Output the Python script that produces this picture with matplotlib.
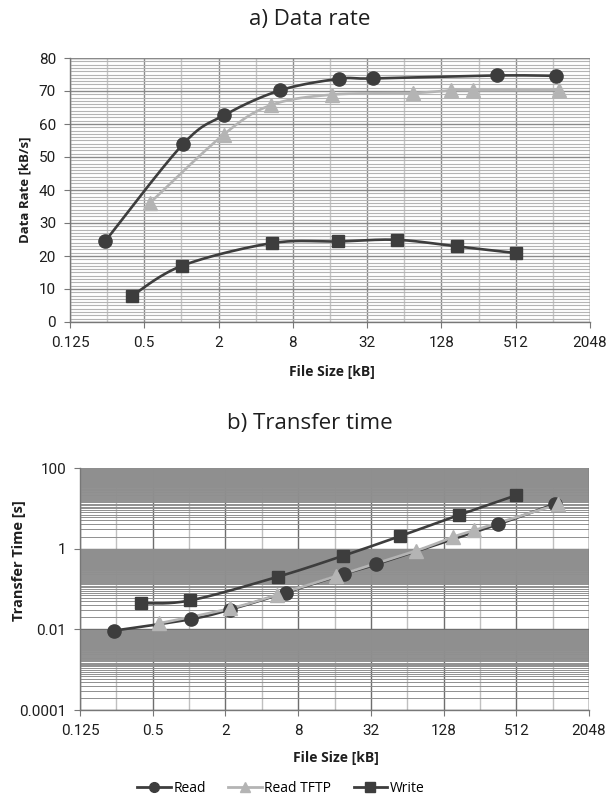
import numpy as np
import matplotlib
matplotlib.use("Agg")
import matplotlib.pyplot as plt
from matplotlib import font_manager
from matplotlib.ticker import FixedLocator, NullFormatter
from matplotlib.lines import Line2D

plt.rcParams['font.family'] = ['Open Sans', 'DejaVu Sans']

# narrow face for tick numbers, if it is installed
try:
    font_manager.findfont('Liberation Sans Narrow', fallback_to_default=False)
    TICKFONT, TICKSIZE = ['Liberation Sans Narrow'], 13
except Exception:
    TICKFONT, TICKSIZE = ['Roboto', 'DejaVu Sans'], 11

# file sizes [kB] per series
read_size = [0.24, 1.03, 2.2, 6.3, 19, 35.5, 360, 1080]
tftp_size = [0.56, 2.2, 5.3, 16.6, 76, 153, 230, 1140]
write_size = [0.4, 1.02, 5.4, 18.7, 56, 171, 510]

# a) data rate [kB/s]
read_rate = [24.4, 53.9, 62.6, 70.2, 73.7, 73.8, 74.7, 74.6]
tftp_rate = [36.2, 56.8, 65.7, 68.9, 69.4, 70.2, 70.2, 70.3]
write_rate = [8.0, 17.1, 23.9, 24.4, 24.9, 22.9, 20.9]

# b) transfer time [s]
read_time = [0.0093, 0.0178, 0.031, 0.081, 0.234, 0.41, 4.0, 13.1]
tftp_time = [0.014, 0.033, 0.071, 0.21, 0.89, 1.95, 2.86, 12.6]
write_time = [0.044, 0.052, 0.2, 0.66, 2.05, 6.8, 21]

xticks = [0.125, 0.5, 2, 8, 32, 128, 512, 2048]
xtick_labels = ['0.125', '0.5', '2', '8', '32', '128', '512', '2048']

DARK = '#3d3d3d'
LIGHT = '#b4b4b4'
W, H = 616, 798


def smooth(x, y, logy=False, n=30):
    # catmull-rom path through the points (excel "smoothed line" look)
    u = np.log2(x)
    v = np.log10(y) if logy else np.asarray(y, float)
    p = np.column_stack([u, v])
    p = np.vstack([p[0], p, p[-1]])
    out = []
    t = np.linspace(0, 1, n)[:, None]
    for i in range(1, len(p) - 2):
        p0, p1, p2, p3 = p[i - 1], p[i], p[i + 1], p[i + 2]
        seg = 0.5 * ((2 * p1) + (-p0 + p2) * t + (2 * p0 - 5 * p1 + 4 * p2 - p3) * t ** 2
                     + (-p0 + 3 * p1 - 3 * p2 + p3) * t ** 3)
        out.append(seg)
    out = np.vstack(out)
    sx = 2 ** out[:, 0]
    sy = 10 ** out[:, 1] if logy else out[:, 1]
    return sx, sy


def series(ax, x, y, color, marker, ms, logy=False):
    sx, sy = smooth(x, y, logy)
    ax.plot(sx, sy, color=color, lw=1.9, zorder=3)
    ax.plot(x, y, color=color, marker=marker, ms=ms, ls='none', zorder=4)


def style_x(ax):
    ax.set_xscale('log', base=2)
    ax.set_xlim(0.125, 2048)
    ax.xaxis.set_major_locator(FixedLocator(xticks))
    ax.set_xticks(xticks, xtick_labels)
    minors = [0.25, 1, 4, 16, 64, 256, 1024]
    ax.xaxis.set_minor_locator(FixedLocator(minors))
    ax.xaxis.set_minor_formatter(NullFormatter())
    for s in ['top', 'right']:
        ax.spines[s].set_visible(False)
    for s in ['left', 'bottom']:
        ax.spines[s].set_color('#777777')
        ax.spines[s].set_linewidth(1.0)
    ax.tick_params(which='major', length=4, color='#777777', labelsize=TICKSIZE,
                   labelcolor='#1e1e1e', pad=6, labelfontfamily=TICKFONT)
    ax.tick_params(which='minor', length=0)


def px(x, y):
    return x / W, 1 - y / H


fig = plt.figure(figsize=(6.16, 7.98), dpi=100)

# a) data rate
ax1 = fig.add_axes([70 / W, 1 - 322 / H, 520 / W, 264 / H])
ax1.set_ylim(0, 80)
ax1.set_yticks(range(0, 81, 10))
style_x(ax1)
ax1.yaxis.set_minor_locator(FixedLocator(range(0, 81, 1)))
ax1.grid(which='minor', axis='y', color='#b4b4b4', lw=0.8)
ax1.grid(which='major', axis='y', color='#8a8a8a', lw=1.0)
ax1.grid(which='minor', axis='x', color='#c4c4c4', lw=1.0)
ax1.grid(which='major', axis='x', color='#8a8a8a', lw=1.0)
ax1.axhline(80, color='#8a8a8a', lw=1.0)
ax1.axvline(2048, color='#8a8a8a', lw=1.0)
ax1.set_axisbelow(True)
series(ax1, read_size, read_rate, DARK, 'o', 9.5)
series(ax1, tftp_size, tftp_rate, LIGHT, '^', 9.5)
series(ax1, write_size, write_rate, DARK, 's', 8.8)
fig.text(*px(310, 19), 'a) Data rate', ha='center', va='center', fontsize=16, color='#1e1e1e')
fig.text(*px(25, 190), 'Data Rate [kB/s]', rotation=90, ha='center', va='center',
         fontweight='bold', fontsize=9.5, color='#1e1e1e')
fig.text(*px(332, 372), 'File Size [kB]', ha='center', va='center',
         fontweight='bold', fontsize=10, color='#1e1e1e')

# b) transfer time
ax2 = fig.add_axes([80 / W, 1 - 710 / H, 509 / W, 242 / H])
ax2.set_yscale('log')
ax2.set_ylim(0.0001, 100)
ax2.set_yticks([0.0001, 0.01, 1, 100], ['0.0001', '0.01', '1', '100'])
style_x(ax2)
ymin = [k * 10.0 ** e for e in (-4, -2, 0) for k in range(2, 100)]
ax2.yaxis.set_minor_locator(FixedLocator(ymin))
ax2.yaxis.set_minor_formatter(NullFormatter())
ax2.grid(which='minor', axis='y', color='#8f8f8f', lw=0.7)
ax2.grid(which='minor', axis='x', color='#c0c0c0', lw=1.0)
ax2.grid(which='major', axis='x', color='#6e6e6e', lw=1.0)
ax2.grid(which='major', axis='y', color='#6e6e6e', lw=1.0)
ax2.axvline(2048, color='#6e6e6e', lw=1.0)
ax2.set_axisbelow(True)
series(ax2, read_size, read_time, DARK, 'o', 9.5, logy=True)
series(ax2, tftp_size, tftp_time, LIGHT, '^', 9.5, logy=True)
series(ax2, write_size, write_time, DARK, 's', 8.8, logy=True)
fig.text(*px(310, 423), 'b) Transfer time', ha='center', va='center', fontsize=16, color='#1e1e1e')
fig.text(*px(19, 561), 'Transfer Time [s]', rotation=90, ha='center', va='center',
         fontweight='bold', fontsize=10.5, color='#1e1e1e')
fig.text(*px(336, 758), 'File Size [kB]', ha='center', va='center',
         fontweight='bold', fontsize=10, color='#1e1e1e')

handles = [
    Line2D([], [], color=DARK, marker='o', ms=7, lw=2),
    Line2D([], [], color=LIGHT, marker='^', ms=7, lw=2),
    Line2D([], [], color=DARK, marker='s', ms=7, lw=2),
]
fig.legend(handles, ['Read', 'Read TFTP', 'Write'], loc='center', ncol=3,
           bbox_to_anchor=px(281, 788), frameon=False, fontsize=10,
           handlelength=2.4, handletextpad=0.2, columnspacing=1.6)

fig.savefig('out.png', dpi=100)
